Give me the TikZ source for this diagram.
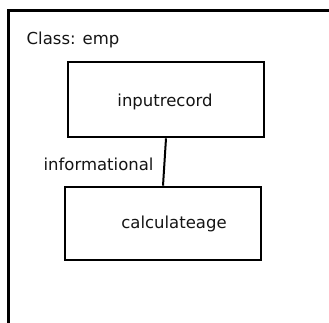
\documentclass[tikz,border=0pt]{standalone}
\usepackage{fontspec}
\setmainfont{DejaVu Sans}
\begin{document}
\begin{tikzpicture}[x=1pt,y=-1pt,
  box/.style={draw=black,line width=2.6pt,minimum width=196pt,inner sep=0pt},
  txt/.style={font=\fontsize{16.5}{19}\selectfont,inner sep=0pt,text=black!92},
  conn/.style={draw=black,line width=2pt}]
\useasboundingbox (0,0) rectangle (329,323);
\clip (0,0) rectangle (329,323);
\draw[line width=2.7pt] (8.5,345) -- (8.5,10.5) -- (345,10.5);
\node[txt,anchor=base west] (cls) at (26.5,44.5) {Class: emp};
\node[box,minimum height=75pt] (b1) at (166,99.5) {};
\node[box,minimum height=73pt] (b2) at (163,223.5) {};
\node[txt,anchor=base] (t1) at (165,106.5) {inputrecord};
\node[txt,anchor=base] (t2) at (174,228.3) {calculateage};
\draw[conn] (b1.south) -- (b2.north)
  node[txt,pos=0.5,anchor=east,xshift=-10pt,yshift=-2pt] (lab) {informational};
\end{tikzpicture}
\end{document}
